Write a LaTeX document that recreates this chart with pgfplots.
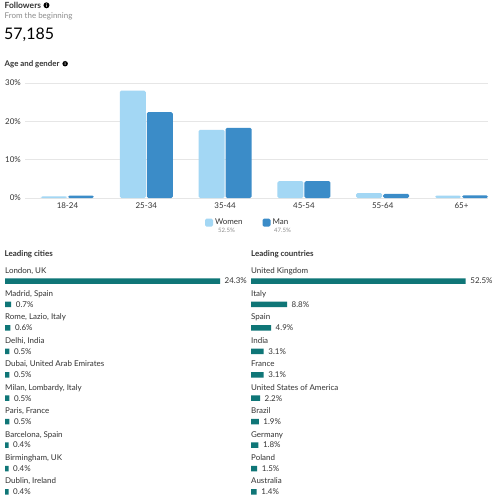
\documentclass[border=0pt]{standalone}
\usepackage{pgfplots}
\usepackage{pgfplotstable}
\pgfplotsset{compat=1.18}
\usepackage{fontspec}
\setmainfont{Lato}
\definecolor{womenc}{HTML}{A3D7F4}
\definecolor{manc}{HTML}{3B8CC8}
\definecolor{tealc}{HTML}{0F7677}
\definecolor{textc}{HTML}{333333}
\definecolor{grayc}{HTML}{8C8C8C}
\definecolor{gridc}{HTML}{E6E6E6}
\newcommand{\fs}[1]{\fontsize{#1}{#1}\selectfont}
\pgfplotsset{/pgf/number format/assume math mode=true}

\pgfplotstableread[col sep=semicolon]{
idx;val;name
0;24.3;London, UK
1;0.7;Madrid, Spain
2;0.6;Rome, Lazio, Italy
3;0.5;Delhi, India
4;0.5;Dubai, United Arab Emirates
5;0.5;Milan, Lombardy, Italy
6;0.5;Paris, France
7;0.4;Barcelona, Spain
8;0.4;Birmingham, UK
9;0.4;Dublin, Ireland
}\cities

\pgfplotstableread[col sep=semicolon]{
idx;val;name
0;52.5;United Kingdom
1;8.8;Italy
2;4.9;Spain
3;3.1;India
4;3.1;France
5;2.2;United States of America
6;1.9;Brazil
7;1.8;Germany
8;1.5;Poland
9;1.4;Australia
}\countries

\pgfplotsset{
  rowbars/.style={
    hide axis, clip=false, scale only axis,
    y dir=reverse, y=23.44bp,
    ymin=0, ymax=9, xmin=0, enlargelimits=false,
    anchor=origin,
  },
  info/.style={circle, fill=black, inner sep=0, minimum size=6bp, text=white, font=\bfseries\fs{5}},
}

\begin{document}
\begin{tikzpicture}[x=1bp,y=1bp]
\fill[white] (0,0) rectangle (495,-500);

% header texts
\node (fol) [anchor=base west, inner sep=0, text=textc, font=\bfseries\fs{8.5}] at (4.5,-8.3) {Followers};
\node[circle, fill=black, inner sep=0, minimum size=6bp, text=white, font=\bfseries\fs{5}, anchor=west] at ([xshift=2bp,yshift=3bp]fol.base east) {i};
\node[anchor=base west, inner sep=0, text=grayc, font=\fs{8}] at (4.5,-18.5) {From the beginning};
\node[anchor=base west, inner sep=0, text=black, font=\fs{16}] at (4,-40) {57,185};
\node (age) [anchor=base west, inner sep=0, text=textc, font=\bfseries\fs{7.9}] at (4.5,-66.5) {Age and gender};
\node[circle, fill=black, inner sep=0, minimum size=5.5bp, text=white, font=\bfseries\fs{4.5}, anchor=west] at ([xshift=2.5bp,yshift=2.8bp]age.base east) {i};
\node[anchor=base west, inner sep=0, text=textc, font=\bfseries\fs{8}] at (4.5,-256) {Leading cities};
\node[anchor=base west, inner sep=0, text=textc, font=\bfseries\fs{8}] at (251,-256) {Leading countries};
\node[anchor=west, inner sep=0, text=grayc, font=\fs{6}] at (218,-230.5) {52.5\%};
\node[anchor=west, inner sep=0, text=grayc, font=\fs{6}] at (274,-230.5) {47.5\%};

% age and gender
\begin{axis}[
  at={(25bp,-198bp)}, anchor=south west,
  scale only axis, width=463bp, height=115bp,
  xmin=-0.539, xmax=5.336, ymin=0, ymax=30,
  ybar=1bp, bar width=26bp,
  axis line style={draw=none}, major tick length=0pt,
  ymajorgrids, grid style={color=gridc, line width=1bp},
  ytick={0,10,20,30},
  yticklabel={\pgfmathprintnumber{\tick}\%},
  xtick={0,1,2,3,4,5},
  xticklabels={18-24,25-34,35-44,45-54,55-64,65+},
  tick label style={font=\fs{8}, text=textc},
  yticklabel style={inner sep=0pt, xshift=-4bp},
  xticklabel style={inner sep=0pt, yshift=-4.5bp},
  legend style={at={(0.3888,-0.165)}, anchor=north west, draw=none, fill=none,
    inner sep=0pt, outer sep=0pt, font=\fs{8}, text=textc,
    /tikz/every even column/.append style={column sep=18bp}},
  legend columns=2,
  legend image code/.code={\fill[#1] (0bp,-4bp) rectangle (8bp,4bp);},
]
\addplot[fill=womenc, draw=none, rounded corners=1.5bp] coordinates {(0,0.4) (1,28.0) (2,17.8) (3,4.4) (4,1.3) (5,0.6)};
\addplot[fill=manc, draw=none, rounded corners=1.5bp] coordinates {(0,0.6) (1,22.4) (2,18.3) (3,4.4) (4,1.1) (5,0.7)};
\legend{Women, Man}
\end{axis}

% leading cities
\begin{axis}[rowbars, at={(5bp,-281bp)}, x=8.848bp, xmax=24.3]
\addplot[xbar, bar width=5.5bp, fill=tealc, draw=none,
  point meta=x,
  nodes near coords={\pgfmathprintnumber[fixed,precision=1,fixed zerofill]{\pgfplotspointmeta}\%},
  nodes near coords style={anchor=west, inner sep=0pt, xshift=4.5bp, font=\fs{8}, text=textc}]
  table[x=val, y=idx] {\cities};
\addplot[draw=none, mark=none, point meta=explicit symbolic, nodes near coords,
  nodes near coords style={anchor=base west, inner sep=0pt, yshift=8bp, font=\fs{8}, text=textc}]
  table[x expr=0, y=idx, meta=name] {\cities};
\end{axis}

% leading countries
\begin{axis}[rowbars, at={(251bp,-281bp)}, x=4.09bp, xmax=52.5]
\addplot[xbar, bar width=5.5bp, fill=tealc, draw=none,
  point meta=x,
  nodes near coords={\pgfmathprintnumber[fixed,precision=1,fixed zerofill]{\pgfplotspointmeta}\%},
  nodes near coords style={anchor=west, inner sep=0pt, xshift=4.5bp, font=\fs{8}, text=textc}]
  table[x=val, y=idx] {\countries};
\addplot[draw=none, mark=none, point meta=explicit symbolic, nodes near coords,
  nodes near coords style={anchor=base west, inner sep=0pt, yshift=8bp, font=\fs{8}, text=textc}]
  table[x expr=0, y=idx, meta=name] {\countries};
\end{axis}

\pgfresetboundingbox
\useasboundingbox (0,0) rectangle (495,-500);
\end{tikzpicture}
\end{document}
